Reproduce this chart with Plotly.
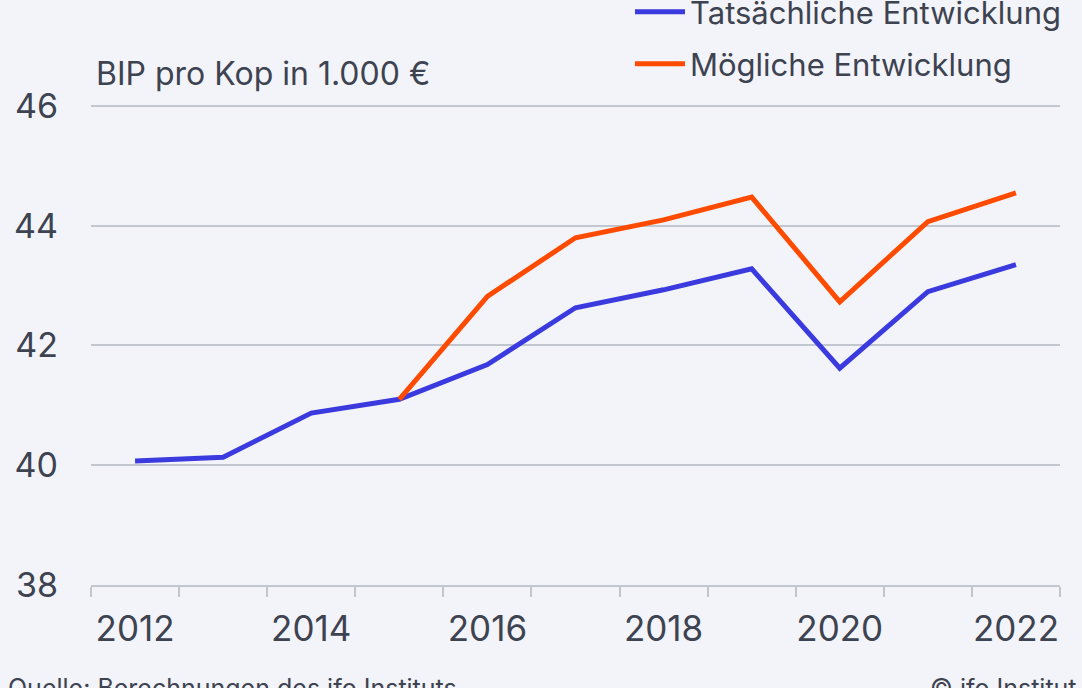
import plotly.graph_objects as go

years = [2012, 2013, 2014, 2015, 2016, 2017, 2018, 2019, 2020, 2021, 2022]
actual = [40.07, 40.13, 40.87, 41.10, 41.68, 42.63, 42.93, 43.28, 41.62, 42.90, 43.35]
possible_years = [2015, 2016, 2017, 2018, 2019, 2020, 2021, 2022]
possible = [41.10, 42.82, 43.80, 44.10, 44.48, 42.73, 44.07, 44.55]

name_actual = "Tatsächliche Entwicklung"
name_possible = "Mögliche Entwicklung"
y_title = "BIP pro Kop in 1.000 €"
source = "Quelle: Berechnungen des ifo Instituts"
copyright_txt = "© ifo Institut"

tick_years = [2012, 2014, 2016, 2018, 2020, 2022]
y_ticks = [38, 40, 42, 44, 46]

BG = "#f3f4f9"
TXT = "#3d4350"
GRID = "#c2c6ce"
BLUE = "#3a3adf"
ORANGE = "#ff4b00"
FONT = "Inter"

fig = go.Figure()
fig.add_trace(go.Scatter(x=years, y=actual, mode="lines", name=name_actual,
                         line=dict(color=BLUE, width=5), legend="legend", showlegend=True))
fig.add_trace(go.Scatter(x=possible_years, y=possible, mode="lines", name=name_possible,
                         line=dict(color=ORANGE, width=5), legend="legend2", showlegend=True))

leg_x = (630 - 91) / 969
leg_common = dict(font=dict(family=FONT, size=31, color=TXT), bgcolor="rgba(0,0,0,0)",
                  xanchor="left", yanchor="middle", xref="paper", yref="paper",
                  itemwidth=50)
fig.update_layout(
    width=1082, height=688,
    showlegend=True,
    paper_bgcolor=BG, plot_bgcolor=BG,
    margin=dict(l=91, r=22, t=105, b=103, autoexpand=False),
    font=dict(family=FONT, color=TXT, size=32),
    legend=dict(x=leg_x, y=(585 - 12) / 480, **leg_common),
    legend2=dict(x=leg_x, y=(585 - 64) / 480, **leg_common),
    xaxis=dict(range=[2011.5, 2022.5], tickmode="array", tickvals=tick_years,
               ticktext=[str(t) for t in tick_years], ticks="", showgrid=False,
               showline=True, linecolor=GRID, linewidth=2, zeroline=False,
               ticklabelstandoff=12,
               tickfont=dict(size=35, color=TXT, family=FONT),
               minor=dict(tickmode="array", tickvals=[y - 0.5 for y in years] + [2022.5],
                          ticks="outside", ticklen=10, tickcolor=GRID, tickwidth=2,
                          showgrid=False)),
    yaxis=dict(range=[37.995, 46.02], tickmode="array", tickvals=y_ticks, ticks="",
               showgrid=True, gridcolor=GRID, gridwidth=2, zeroline=False,
               showline=False, ticklabelstandoff=32,
               tickfont=dict(size=34, color=TXT, family=FONT)),
    annotations=[
        dict(text=y_title, xref="paper", yref="paper", x=(94 - 91) / 969, y=(585 - 73) / 480,
             xanchor="left", yanchor="middle", showarrow=False,
             font=dict(size=32, color=TXT, family=FONT)),
        dict(text=source, xref="paper", yref="paper", x=-(91 - 6) / 969, y=-(688 - 585) / 480,
             xanchor="left", yanchor="middle", showarrow=False,
             font=dict(size=25, color=TXT, family=FONT)),
        dict(text=copyright_txt, xref="paper", yref="paper", x=(1079 - 91) / 969, y=-(688 - 585) / 480,
             xanchor="right", yanchor="middle", showarrow=False,
             font=dict(size=25, color=TXT, family=FONT)),
    ],
)
fig.write_html("out.html", config={"displayModeBar": False},
               post_script="document.body.style.margin='0';")
